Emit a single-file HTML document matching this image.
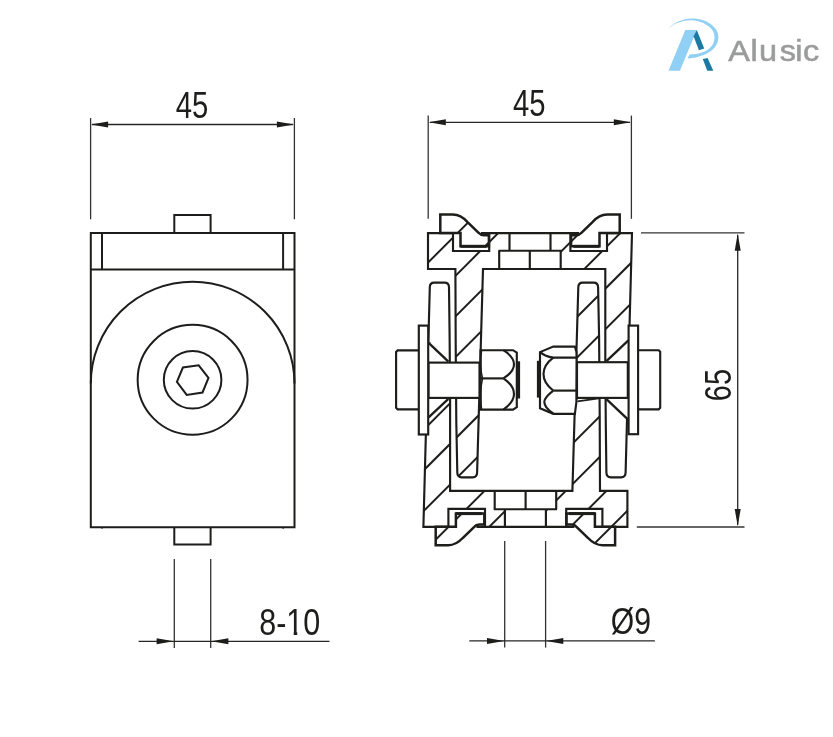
<!DOCTYPE html>
<html lang="en"><head><meta charset="utf-8"><title>Alusic - technical drawing</title>
<style>html,body{margin:0;padding:0;background:#fff}svg{display:block;will-change:transform}text{font-family:"Liberation Sans",sans-serif}</style></head><body>
<svg width="833" height="737" viewBox="0 0 833 737">
<rect width="833" height="737" fill="#fff"/>
<g id="logo">
<path d="M668.5,28.6 C674,22.5 683,19 691.5,18.6 C699,18.3 706,20.6 710.8,24.2 C715.5,27.6 718.5,32 718.4,37.4 C718.3,43 715,47.8 710.6,51.2 C704.5,55.6 696,58 687.4,58.6 L689.6,54.6 C694,54.4 697.8,53.8 701.2,52.8 C706,51.3 710,48.6 712.4,45 C714,42.4 714.7,39.4 714.5,36.3 C714.2,32.4 712.2,29.2 708.9,26.6 C704.5,23 698.5,20.4 691.5,20.2 C683.5,20 674.5,23 668.5,28.6 Z" fill="#8fd0f4"/>
<polygon points="668.5,70.7 679.9,70.7 696.8,30.1 685.3,30.1" fill="#8fd0f4"/>
<polygon points="696.8,30.1 704.2,48.4 698.9,50.3 693.6,36.2" fill="#1b7aa4"/>
<polygon points="702.8,58.9 707.6,57.9 713.3,70.7 707.2,70.7" fill="#1b7aa4"/>
<text transform="translate(0 61.2) scale(1.1 1)" x="662.09 682.18 690.00 708.82 723.00 730.09" y="0" font-size="29.5" fill="#9a9b9b" stroke="#9a9b9b" stroke-width="0.55">Alusic</text>
</g>
<g id="front-view">
<path d="M174.3,233.1 V214.9 H210.6 V233.1" fill="none" stroke="#1d1d1b" stroke-width="2.0" stroke-linejoin="miter" />
<path d="M174.3,527.3 V544.5 H210.6 V527.3" fill="none" stroke="#1d1d1b" stroke-width="2.0" stroke-linejoin="miter" />
<path d="M90.8,233.1 H294.5 V527.3 H90.8 Z" fill="none" stroke="#1d1d1b" stroke-width="2.0" stroke-linejoin="miter" />
<line x1="90.8" y1="269.6" x2="294.5" y2="269.6" stroke="#1d1d1b" stroke-width="2.0" stroke-linecap="butt"/>
<line x1="102" y1="233.1" x2="102" y2="269.6" stroke="#1d1d1b" stroke-width="2.0" stroke-linecap="butt"/>
<line x1="283.1" y1="233.1" x2="283.1" y2="269.6" stroke="#1d1d1b" stroke-width="2.0" stroke-linecap="butt"/>
<path d="M90.8,383.6 A101.85,101.85 0 0 1 294.5,383.6" fill="none" stroke="#1d1d1b" stroke-width="2.0" stroke-linejoin="miter" />
<circle cx="192.6" cy="379.8" r="54.95" fill="none" stroke="#1d1d1b" stroke-width="2.0"/>
<circle cx="192.6" cy="379.8" r="28.8" fill="none" stroke="#1d1d1b" stroke-width="2.0"/>
<polygon points="176.9,381.9 182.9,367.5 198.7,365.3 208.5,377.8 202.5,392.5 186.7,394.9" fill="none" stroke="#1d1d1b" stroke-width="2.0"/>
<line x1="102" y1="527.3" x2="102" y2="529" stroke="#1d1d1b" stroke-width="1.0" stroke-linecap="butt"/>
<line x1="283.1" y1="527.3" x2="283.1" y2="529" stroke="#1d1d1b" stroke-width="1.0" stroke-linecap="butt"/>
</g>
<g id="dims-left">
<line x1="90.6" y1="118" x2="90.6" y2="219.3" stroke="#333332" stroke-width="1.3" stroke-linecap="butt"/>
<line x1="294.4" y1="118" x2="294.4" y2="219.3" stroke="#333332" stroke-width="1.3" stroke-linecap="butt"/>
<line x1="92" y1="124.5" x2="293" y2="124.5" stroke="#262625" stroke-width="1.3" stroke-linecap="butt"/>
<polygon points="90.9,124.5 108.10,121.50 108.10,127.50" fill="#1d1d1b"/>
<polygon points="294.1,124.5 276.90,127.50 276.90,121.50" fill="#1d1d1b"/>
<text x="175.7" y="117.9" font-size="37.6" textLength="32.6" lengthAdjust="spacingAndGlyphs" text-anchor="start" fill="#1d1d1b" >45</text>
<line x1="174.3" y1="559" x2="174.3" y2="648" stroke="#333332" stroke-width="1.3" stroke-linecap="butt"/>
<line x1="210.7" y1="559" x2="210.7" y2="648" stroke="#333332" stroke-width="1.3" stroke-linecap="butt"/>
<line x1="138.6" y1="641.3" x2="329.5" y2="641.3" stroke="#262625" stroke-width="1.3" stroke-linecap="butt"/>
<polygon points="173.8,641.3 156.60,644.30 156.60,638.30" fill="#1d1d1b"/>
<polygon points="211.2,641.3 228.40,638.30 228.40,644.30" fill="#1d1d1b"/>
<text x="259.2" y="635.0" font-size="37.6" textLength="61" lengthAdjust="spacingAndGlyphs" text-anchor="start" fill="#1d1d1b" >8-10</text>
<rect x="287.2" y="631.3" width="6.5" height="4.4" fill="#fff"/>
<rect x="297.2" y="631.3" width="5.3" height="4.4" fill="#fff"/>
</g>
<defs>
<clipPath id="hclip1"><path d="M428,233.1 H453 V251 H489.2 V233.1 H509.5 V250.7 H499.2 V269.0 H483.0 L477.1,472.6 Q477.1,477.3 472.70000000000005,477.3 H461.7 Q457.3,477.3 457.3,472.6 L456.3,422 L455.7,345 L455.4,269.0 H428 Z M550.5,233.1 H570.4 V251 H607 V233.1 H632.0 L629.01,345 H605.3 V269.0 H560.7 V250.7 H550.5 Z M440.3,214.6 H452.9 C459.5,214.8 463.7,218 467.3,221.9 L478.6,232.8 Q480.6,235.2 484,235.3 H488.9 V246.3 H460.5 V233.1 H440.3 Z M 619.7,214.6 H 607.1 C 600.5,214.8,596.3,218,592.7,221.9 L 581.4,232.8 Q 579.4,235.2,576,235.3 H 571.1 V 246.3 H 599.5 V 233.1 H 619.7 Z"/></clipPath>
<clipPath id="hclip2"><path d="M428,233.1 H453 V251 H489.2 V233.1 H509.5 V250.7 H499.2 V269.0 H483.0 L477.1,472.6 Q477.1,477.3 472.70000000000005,477.3 H461.7 Q457.3,477.3 457.3,472.6 L456.3,422 L455.7,345 L455.4,269.0 H428 Z M550.5,233.1 H570.4 V251 H607 V233.1 H632.0 L627.08,417.4 H605.3 V269.0 H560.7 V250.7 H550.5 Z M440.3,214.6 H452.9 C459.5,214.8 463.7,218 467.3,221.9 L478.6,232.8 Q480.6,235.2 484,235.3 H488.9 V246.3 H460.5 V233.1 H440.3 Z M 619.7,214.6 H 607.1 C 600.5,214.8,596.3,218,592.7,221.9 L 581.4,232.8 Q 579.4,235.2,576,235.3 H 571.1 V 246.3 H 599.5 V 233.1 H 619.7 Z" transform="rotate(180 527.7 379.95)"/></clipPath>
</defs>
<g id="section-view">
<g clip-path="url(#hclip1)">
<line x1="400" y1="290.6" x2="680" y2="10.6" stroke="#1d1d1b" stroke-width="1.95" stroke-linecap="butt"/>
<line x1="400" y1="331.28" x2="680" y2="51.28" stroke="#1d1d1b" stroke-width="1.95" stroke-linecap="butt"/>
<line x1="400" y1="371.96" x2="680" y2="91.96" stroke="#1d1d1b" stroke-width="1.95" stroke-linecap="butt"/>
<line x1="400" y1="412.64" x2="680" y2="132.64" stroke="#1d1d1b" stroke-width="1.95" stroke-linecap="butt"/>
<line x1="400" y1="453.32" x2="680" y2="173.32" stroke="#1d1d1b" stroke-width="1.95" stroke-linecap="butt"/>
<line x1="400" y1="494.0" x2="680" y2="214.0" stroke="#1d1d1b" stroke-width="1.95" stroke-linecap="butt"/>
<line x1="400" y1="534.68" x2="680" y2="254.68" stroke="#1d1d1b" stroke-width="1.95" stroke-linecap="butt"/>
<line x1="400" y1="575.36" x2="680" y2="295.36" stroke="#1d1d1b" stroke-width="1.95" stroke-linecap="butt"/>
<line x1="400" y1="616.04" x2="680" y2="336.04" stroke="#1d1d1b" stroke-width="1.95" stroke-linecap="butt"/>
<line x1="400" y1="656.72" x2="680" y2="376.72" stroke="#1d1d1b" stroke-width="1.95" stroke-linecap="butt"/>
<line x1="400" y1="697.4" x2="680" y2="417.4" stroke="#1d1d1b" stroke-width="1.95" stroke-linecap="butt"/>
<line x1="400" y1="738.08" x2="680" y2="458.08" stroke="#1d1d1b" stroke-width="1.95" stroke-linecap="butt"/>
<line x1="400" y1="778.76" x2="680" y2="498.76" stroke="#1d1d1b" stroke-width="1.95" stroke-linecap="butt"/>
</g>
<g clip-path="url(#hclip2)">
<line x1="400" y1="290.6" x2="680" y2="10.6" stroke="#1d1d1b" stroke-width="1.95" stroke-linecap="butt"/>
<line x1="400" y1="331.28" x2="680" y2="51.28" stroke="#1d1d1b" stroke-width="1.95" stroke-linecap="butt"/>
<line x1="400" y1="371.96" x2="680" y2="91.96" stroke="#1d1d1b" stroke-width="1.95" stroke-linecap="butt"/>
<line x1="400" y1="412.64" x2="680" y2="132.64" stroke="#1d1d1b" stroke-width="1.95" stroke-linecap="butt"/>
<line x1="400" y1="453.32" x2="680" y2="173.32" stroke="#1d1d1b" stroke-width="1.95" stroke-linecap="butt"/>
<line x1="400" y1="494.0" x2="680" y2="214.0" stroke="#1d1d1b" stroke-width="1.95" stroke-linecap="butt"/>
<line x1="400" y1="534.68" x2="680" y2="254.68" stroke="#1d1d1b" stroke-width="1.95" stroke-linecap="butt"/>
<line x1="400" y1="575.36" x2="680" y2="295.36" stroke="#1d1d1b" stroke-width="1.95" stroke-linecap="butt"/>
<line x1="400" y1="616.04" x2="680" y2="336.04" stroke="#1d1d1b" stroke-width="1.95" stroke-linecap="butt"/>
<line x1="400" y1="656.72" x2="680" y2="376.72" stroke="#1d1d1b" stroke-width="1.95" stroke-linecap="butt"/>
<line x1="400" y1="697.4" x2="680" y2="417.4" stroke="#1d1d1b" stroke-width="1.95" stroke-linecap="butt"/>
<line x1="400" y1="738.08" x2="680" y2="458.08" stroke="#1d1d1b" stroke-width="1.95" stroke-linecap="butt"/>
<line x1="400" y1="778.76" x2="680" y2="498.76" stroke="#1d1d1b" stroke-width="1.95" stroke-linecap="butt"/>
</g>
<g id="prof">
<path d="M453,233.1 H428 V269.0 H455.4 L455.7,345 L456.3,422 L457.3,472.6 Q457.3,477.3 461.7,477.3 H472.70000000000005 Q477.1,477.3 477.1,472.6 L483.0,269.0 H605.3 L605.3,360 L605.8,425 L606.4,472.6 Q606.4,477.3 610.8,477.3 H621.2 Q625.6,477.3 625.6,472.6 L632.0,233.1 H607" fill="none" stroke="#1d1d1b" stroke-width="2.15" stroke-linejoin="miter" />
<path d="M453,233.1 V251 H489.2 V233.1" fill="none" stroke="#1d1d1b" stroke-width="2.15" stroke-linejoin="miter" />
<path d="M570.4,233.1 V251 H607 V233.1" fill="none" stroke="#1d1d1b" stroke-width="2.15" stroke-linejoin="miter" />
<path d="M481,233.1 H579" fill="none" stroke="#1d1d1b" stroke-width="2.15" stroke-linejoin="miter" />
<line x1="509.5" y1="233.1" x2="509.5" y2="250.7" stroke="#1d1d1b" stroke-width="2.15" stroke-linecap="butt"/>
<line x1="550.5" y1="233.1" x2="550.5" y2="250.7" stroke="#1d1d1b" stroke-width="2.15" stroke-linecap="butt"/>
<line x1="498.4" y1="250.7" x2="561.6" y2="250.7" stroke="#1d1d1b" stroke-width="2.15" stroke-linecap="butt"/>
<line x1="499.2" y1="250.7" x2="499.2" y2="269.0" stroke="#1d1d1b" stroke-width="2.15" stroke-linecap="butt"/>
<line x1="529.8" y1="250.7" x2="529.8" y2="269.0" stroke="#1d1d1b" stroke-width="2.15" stroke-linecap="butt"/>
<line x1="560.7" y1="250.7" x2="560.7" y2="269.0" stroke="#1d1d1b" stroke-width="2.15" stroke-linecap="butt"/>
<path d="M440.3,214.6 H452.9 C459.5,214.8 463.7,218 467.3,221.9 L478.6,232.8 Q480.6,235.2 484,235.3 H488.9 V246.3 H460.5 V233.1 H440.3 Z" fill="none" stroke="#1d1d1b" stroke-width="2.5" stroke-linejoin="miter" />
<path d="M 619.7,214.6 H 607.1 C 600.5,214.8,596.3,218,592.7,221.9 L 581.4,232.8 Q 579.4,235.2,576,235.3 H 571.1 V 246.3 H 599.5 V 233.1 H 619.7 Z" fill="none" stroke="#1d1d1b" stroke-width="2.5" stroke-linejoin="miter" />
<line x1="460.5" y1="246.3" x2="486.5" y2="246.3" stroke="#1d1d1b" stroke-width="3.0" stroke-linecap="butt"/>
<line x1="573.5" y1="246.3" x2="599.5" y2="246.3" stroke="#1d1d1b" stroke-width="3.0" stroke-linecap="butt"/>
</g>
<use href="#prof" transform="rotate(180 527.7 379.95)"/>
<polygon points="428.2,342.6 449.6,362.4 449.6,397.9 428.2,417.6" fill="#fff"/>
<line x1="428.6" y1="342.8" x2="448.4" y2="361.6" stroke="#1d1d1b" stroke-width="2.3" stroke-linecap="butt"/>
<line x1="428.6" y1="417.4" x2="448.4" y2="398.8" stroke="#1d1d1b" stroke-width="2.3" stroke-linecap="butt"/>
<polygon points="628.9,340.2 605.9,361.6 605.9,398.4 628.9,419.9" fill="#fff"/>
<line x1="628.4" y1="340.4" x2="606.4" y2="361.2" stroke="#1d1d1b" stroke-width="2.3" stroke-linecap="butt"/>
<line x1="628.4" y1="419.8" x2="606.4" y2="399.2" stroke="#1d1d1b" stroke-width="2.3" stroke-linecap="butt"/>
<rect x="428.5" y="362.6" width="51" height="35.3" fill="#fff" stroke="#1d1d1b" stroke-width="2.15"/>
<rect x="577" y="362.2" width="50.8" height="35.7" fill="#fff" stroke="#1d1d1b" stroke-width="2.15"/>
<path d="M418.8,350.4 H397.6 L396.1,351.9 V407.8 L397.6,409.3 H418.8" fill="#fff" stroke="#1d1d1b" stroke-width="2.15" stroke-linejoin="miter" />
<path d="M638.1,350.2 H658.7 L660.2,351.7 V407.8 L658.7,409.3 H638.1" fill="#fff" stroke="#1d1d1b" stroke-width="2.15" stroke-linejoin="miter" />
<rect x="418.8" y="325.6" width="9.4" height="108.9" fill="#fff" stroke="#1d1d1b" stroke-width="2.15"/>
<rect x="628.6" y="325.6" width="9.5" height="108.6" fill="#fff" stroke="#1d1d1b" stroke-width="2.15"/>
<path d="M480.6,350.2 H513 L516.8,352.6 V407.2 L513,409.6 H480.6 Z" fill="#fff" stroke="#1d1d1b" stroke-width="2.15" stroke-linejoin="miter" />
<line x1="480.6" y1="378.4" x2="503.4" y2="378.4" stroke="#1d1d1b" stroke-width="2.15" stroke-linecap="butt"/>
<path d="M503.4,350.2 C511,355 514,360 514,364.3 C514,369 510.5,374 503.4,378.4" fill="none" stroke="#1d1d1b" stroke-width="2.15" stroke-linejoin="miter" />
<path d="M503.4,378.4 C511,383.5 514,389 514,394 C514,399 510.5,404.5 503.4,409.6" fill="none" stroke="#1d1d1b" stroke-width="2.15" stroke-linejoin="miter" />
<path d="M481.6,350.6 C480.2,360 480.4,370 482.6,378.4" fill="none" stroke="#1d1d1b" stroke-width="1.4" stroke-linejoin="miter" />
<path d="M482.6,378.4 C480.4,388 480.2,399 481.6,409.2" fill="none" stroke="#1d1d1b" stroke-width="1.4" stroke-linejoin="miter" />
<rect x="516.9" y="361.3" width="3.2" height="37.2" fill="#1d1d1b"/>
<path d="M574.9,346.6 H553.3 L540,352.1 V408.3 L553.3,413.8 H574.9 Q577.2,402 576.4,390.6 L576.6,357.6 Q577.2,352 574.9,346.6 Z" fill="#fff" stroke="#1d1d1b" stroke-width="2.15" stroke-linejoin="miter" />
<path d="M540.6,352.4 Q545,356.6 553.3,357.6 H576.4" fill="none" stroke="#1d1d1b" stroke-width="2.15" stroke-linejoin="miter" />
<path d="M553.3,357.6 C546,363 543.5,369 543.5,374.1 C543.5,380 547,386 553.3,390.6" fill="none" stroke="#1d1d1b" stroke-width="2.15" stroke-linejoin="miter" />
<line x1="553.3" y1="390.6" x2="576.4" y2="390.6" stroke="#1d1d1b" stroke-width="2.15" stroke-linecap="butt"/>
<path d="M553.3,390.6 C547,395.5 544.3,398.8 544.3,401.8 C544.3,405.5 547,409.5 553.3,413.5" fill="none" stroke="#1d1d1b" stroke-width="2.15" stroke-linejoin="miter" />
<rect x="536.9" y="360.8" width="3.3" height="36.8" fill="#1d1d1b"/>
<line x1="577.4" y1="401.4" x2="598.6" y2="398.4" stroke="#1d1d1b" stroke-width="1.7" stroke-linecap="butt"/>
</g>
<g id="dims-right">
<line x1="428.2" y1="115.6" x2="428.2" y2="218.8" stroke="#333332" stroke-width="1.3" stroke-linecap="butt"/>
<line x1="631.4" y1="115.6" x2="631.4" y2="218.8" stroke="#333332" stroke-width="1.3" stroke-linecap="butt"/>
<line x1="430" y1="122.3" x2="630" y2="122.3" stroke="#262625" stroke-width="1.3" stroke-linecap="butt"/>
<polygon points="428.6,122.3 445.80,119.30 445.80,125.30" fill="#1d1d1b"/>
<polygon points="631.0,122.3 613.80,125.30 613.80,119.30" fill="#1d1d1b"/>
<text x="512.9" y="116.1" font-size="37.6" textLength="32.6" lengthAdjust="spacingAndGlyphs" text-anchor="start" fill="#1d1d1b" >45</text>
<line x1="641" y1="232.9" x2="744.5" y2="232.9" stroke="#333332" stroke-width="1.3" stroke-linecap="butt"/>
<line x1="636.8" y1="527" x2="744.5" y2="527" stroke="#333332" stroke-width="1.3" stroke-linecap="butt"/>
<line x1="737.7" y1="235" x2="737.7" y2="525" stroke="#262625" stroke-width="1.3" stroke-linecap="butt"/>
<polygon points="737.7,233.6 740.70,250.80 734.70,250.80" fill="#1d1d1b"/>
<polygon points="737.7,526.3 734.70,509.10 740.70,509.10" fill="#1d1d1b"/>
<text transform="translate(731.3 401.2) rotate(-90)" x="0" y="0" font-size="37.6" textLength="32.2" lengthAdjust="spacingAndGlyphs" fill="#1d1d1b">65</text>
<line x1="504.7" y1="541" x2="504.7" y2="647.6" stroke="#333332" stroke-width="1.3" stroke-linecap="butt"/>
<line x1="545.6" y1="541" x2="545.6" y2="647.6" stroke="#333332" stroke-width="1.3" stroke-linecap="butt"/>
<line x1="469.3" y1="640.9" x2="654.9" y2="640.9" stroke="#262625" stroke-width="1.3" stroke-linecap="butt"/>
<polygon points="504.2,640.9 487.00,643.90 487.00,637.90" fill="#1d1d1b"/>
<polygon points="546.1,640.9 563.30,637.90 563.30,643.90" fill="#1d1d1b"/>
<text x="610.8" y="634.2" font-size="37.6" textLength="40.2" lengthAdjust="spacingAndGlyphs" text-anchor="start" fill="#1d1d1b" >Ø9</text>
</g>
</svg></body></html>
